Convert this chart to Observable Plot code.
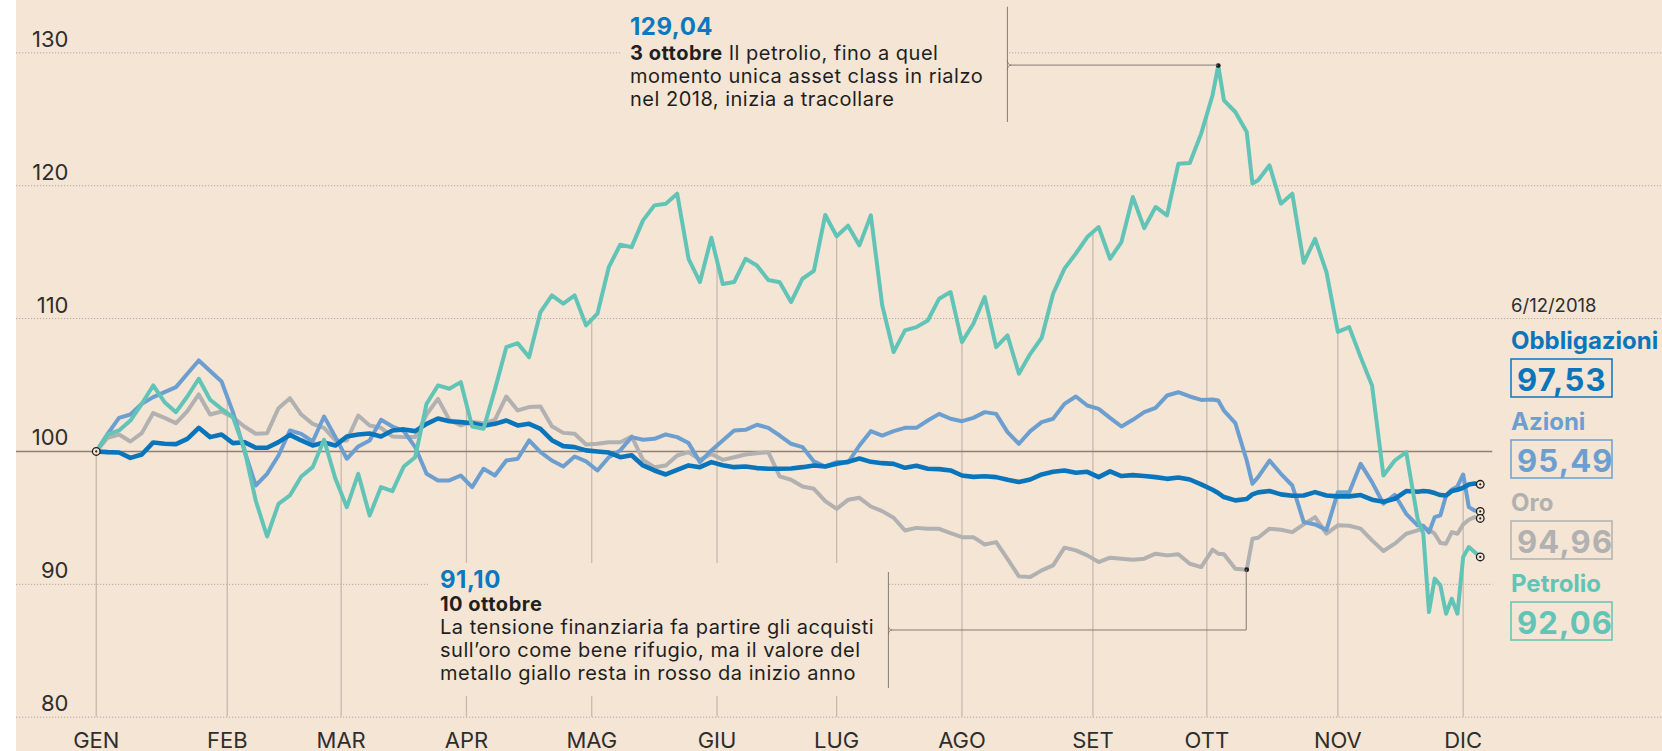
<!DOCTYPE html>
<html><head><meta charset="utf-8">
<script src="https://cdn.jsdelivr.net/npm/d3@7"></script>
<script src="https://cdn.jsdelivr.net/npm/@observablehq/plot@0.6"></script>
<style>
html,body{margin:0;padding:0;background:#fff;}
#wrap{position:relative;width:1662px;height:751px;overflow:hidden;background:#fff;}
#wrap > svg{position:absolute;left:16px;top:0;}
</style></head>
<body><div id="wrap"></div>
<script>
// business-day index (0 = 1 gennaio 2018, 243 = 6 dicembre 2018)
const days = [0,2,4,6,8,10,12,14,16,18,20,22,24,26,28,30,32,34,36,38,40,42,44,46,48,50,52,54,56,58,60,62,64,66,68,70,72,74,76,78,80,82,84,86,88,90,92,94,96,98,100,102,104,106,108,110,112,114,116,118,120,122,124,126,128,130,132,134,136,138,140,142,144,146,148,150,152,154,156,158,160,162,164,166,168,170,172,174,176,178,180,182,184,186,188,190,192,194,196,197,198,200,202,203,204,206,208,210,212,214,216,218,220,222,224,226,228,230,232,233,234,235,236,237,238,239,240,241,242,243];

const obbligazioni = [100.00,99.95,99.92,99.52,99.77,100.68,100.58,100.55,100.95,101.78,
101.08,101.28,100.63,100.70,100.28,100.28,100.70,101.25,100.83,100.45,
100.68,100.45,101.13,101.28,101.35,101.13,101.58,101.66,101.53,102.08,
102.48,102.28,102.21,102.13,101.93,102.08,102.33,101.96,102.08,101.70,
100.85,100.40,100.33,100.08,100.00,99.92,99.57,99.72,98.95,98.57,
98.27,98.62,98.95,98.82,99.20,98.97,98.82,98.87,98.75,98.70,
98.70,98.72,98.82,98.95,98.87,99.07,99.22,99.47,99.22,99.12,
99.07,98.77,98.92,98.70,98.67,98.57,98.19,98.09,98.14,98.07,
97.87,97.70,97.89,98.27,98.47,98.57,98.40,98.47,98.07,98.50,
98.15,98.22,98.15,98.07,97.94,98.04,97.89,97.52,97.12,
96.87,96.57,96.32,96.42,96.77,
96.92,97.02,96.77,96.67,96.69,96.94,96.69,96.62,96.62,96.72,96.37,96.22,96.44,97.02,
96.97,97.02,96.99,96.87,96.72,96.69,97.02,97.12,97.27,97.52,97.59,97.53];

const azioni = [100.00,101.33,102.53,102.78,103.59,104.09,104.47,104.84,105.85,106.85,
106.05,105.27,102.96,100.08,97.44,98.32,99.70,101.58,101.33,100.75,
102.63,101.08,99.45,100.38,100.83,102.38,101.88,101.53,100.33,98.32,
97.82,97.82,98.19,97.32,98.70,98.19,99.32,99.45,100.83,99.95,
99.32,98.87,99.62,99.25,98.57,99.57,100.08,101.08,100.88,100.95,
101.28,101.08,100.63,99.20,100.08,100.83,101.58,101.63,102.01,101.78,
101.20,100.58,100.33,99.25,98.87,99.20,99.17,100.45,101.53,101.20,
101.53,101.78,101.78,102.33,102.83,102.46,102.28,102.53,102.96,102.83,
101.46,100.58,101.53,102.21,102.46,103.58,104.14,103.46,103.21,102.53,
101.88,102.38,102.96,103.28,104.21,104.46,104.14,103.88,103.91,
103.83,103.08,102.13,99.32,97.57,
98.07,99.32,98.32,97.44,94.69,94.51,94.10,96.94,96.94,99.07,97.69,96.07,96.74,95.31,
94.44,94.41,93.91,95.06,95.19,96.69,97.12,97.37,98.27,95.81,95.56,95.49];

const oro = [100.00,101.03,101.28,100.75,101.38,102.89,102.53,102.13,103.04,104.29,
102.78,103.01,102.58,101.88,101.33,101.38,103.26,104.01,102.78,102.08,
101.78,100.83,100.83,102.71,101.96,101.78,101.13,101.08,101.08,102.78,
103.96,102.38,101.96,102.21,102.13,102.38,104.14,103.09,103.34,103.39,
101.90,101.40,101.33,100.53,100.58,100.70,100.70,101.13,99.37,98.82,
98.95,99.70,99.95,99.37,99.82,99.37,99.57,99.77,99.87,99.95,
98.12,97.87,97.37,97.19,96.26,95.68,96.36,96.51,95.86,95.51,
95.01,94.05,94.25,94.18,94.18,93.85,93.55,93.55,93.00,93.18,
91.92,90.60,90.55,91.05,91.43,92.76,92.56,92.18,91.68,92.01,
91.93,91.85,91.93,92.31,92.18,92.26,91.55,91.30,92.61,
92.31,92.26,91.18,91.10,93.43,
93.51,94.19,94.11,93.93,94.51,95.06,93.81,94.44,94.41,94.19,93.31,92.51,93.06,93.81,
94.06,94.26,94.11,93.81,93.11,93.06,93.93,93.81,94.51,94.86,95.06,94.96];

const petrolio = [100.00,101.28,101.58,102.33,103.59,104.97,103.71,102.96,104.14,105.47,
103.89,103.21,102.58,100.20,96.31,93.60,96.06,96.69,98.12,98.82,
100.88,97.94,95.81,98.32,95.18,97.32,97.01,98.87,99.57,103.59,
104.97,104.72,105.22,101.88,101.71,104.67,107.85,108.15,107.10,110.49,
111.75,111.12,111.75,109.49,110.37,113.88,115.56,115.38,117.39,118.52,
118.65,119.40,114.50,112.75,116.09,112.60,112.75,114.50,114.00,112.90,
112.73,111.24,113.00,113.60,117.80,116.20,116.99,115.51,117.77,111.00,
107.48,109.11,109.36,109.86,111.50,112.00,108.23,109.61,111.62,107.85,
108.73,105.85,107.35,108.56,111.87,113.76,114.90,116.14,116.89,114.50,
115.76,119.15,116.81,118.40,117.77,121.66,121.71,123.92,126.81,
129.04,126.43,125.55,124.05,120.16,
120.41,121.54,118.65,119.40,114.20,116.00,113.50,109.00,109.36,107.10,104.97,98.19,99.32,99.95,
94.94,93.81,87.92,90.43,89.92,87.79,88.92,87.79,92.05,92.81,92.43,92.06];

const monthLabels = ["GEN","FEB","MAR","APR","MAG","GIU","LUG","AGO","SET","OTT","NOV","DIC"];
const monthDays = [0,23,43,65,87,109,130,152,175,195,218,240];
const yTicks = [80,90,100,110,120,130];

const seriesNames = ["Obbligazioni","Azioni","Oro","Petrolio"];
const seriesColors = ["#0b75bc","#6c9fd0","#b1b1b1","#62c4b6"];
const seriesWidths = [4.6,4,4,4];
const lastDateLabel = "6/12/2018";

const noteTop = {series: "Petrolio", day: 197, title: "3 ottobre",
  lines: ["Il petrolio, fino a quel", "momento unica asset class in rialzo", "nel 2018, inizia a tracollare"]};
const noteBottom = {series: "Oro", day: 202, title: "10 ottobre",
  lines: ["La tensione finanziaria fa partire gli acquisti", "sull\u2019oro come bene rifugio, ma il valore del", "metallo giallo resta in rosso da inizio anno"]};

// ---------- build
const BG = "#f4e5d5";
const FONT = "Inter, 'DejaVu Sans', sans-serif";
const valuesBy = {Obbligazioni: obbligazioni, Azioni: azioni, Oro: oro, Petrolio: petrolio};
const series = seriesNames.map((name, i) => ({name, color: seriesColors[i], width: seriesWidths[i], values: valuesBy[name]}));
const rowsOf = s => days.map((d, i) => ({day: d, value: s.values[i], series: s.name}));
function valueAt(arr, d) {
  for (let i = 0; i < days.length - 1; i++) {
    if (d >= days[i] && d <= days[i + 1]) {
      const t = (d - days[i]) / (days[i + 1] - days[i]);
      return arr[i] + t * (arr[i + 1] - arr[i]);
    }
  }
  return arr[arr.length - 1];
}
const monthRows = monthDays.map((d, i) => ({day: d, label: monthLabels[i],
  top: Math.max(...series.map(s => valueAt(s.values, d)))}));
const lastDay = days[days.length - 1];
const endRows = series.map(s => ({day: lastDay, value: s.values[s.values.length - 1]}));
const startRow = [{day: days[0], value: 100}];
const fmt = v => v.toFixed(2).replace(".", ",");
const topPt = {day: noteTop.day, value: valueAt(valuesBy[noteTop.series], noteTop.day)};
const botPt = {day: noteBottom.day, value: valueAt(valuesBy[noteBottom.series], noteBottom.day)};

const drawOrder = ["Oro", "Azioni", "Obbligazioni", "Petrolio"];
const legendEdgeDay = 245.2;

const plot = Plot.plot({
  width: 1646, height: 751, margin: 0,
  style: {background: BG, fontFamily: FONT, overflow: "visible"},
  x: {domain: [-14, 275], axis: null},
  y: {domain: [77.42, 133.94], axis: null},
  marks: [
    Plot.ruleY([80, 110, 120, 130], {stroke: "#b3a79c", strokeWidth: 1, strokeDasharray: "1.2,1.8"}),
    Plot.ruleY([90], {x1: -14, x2: legendEdgeDay, stroke: "#b3a79c", strokeWidth: 1, strokeDasharray: "1.2,1.8"}),
    Plot.ruleX(monthRows, {x: "day", y1: yTicks[0], y2: "top", stroke: "#c4b6a8", strokeWidth: 1.2}),
    Plot.ruleY([100], {x1: -14, x2: legendEdgeDay, stroke: "#8b8179", strokeWidth: 1.4}),
    ...drawOrder.map(n => {
      const s = series.find(t => t.name === n);
      return Plot.line(rowsOf(s), {x: "day", y: "value", stroke: s.color, strokeWidth: s.width,
        strokeLinejoin: "round", strokeLinecap: "round"});
    }),
    Plot.dot(startRow.concat(endRows), {x: "day", y: "value", r: 3.8, fill: BG, stroke: "#1e1e1e", strokeWidth: 1.3}),
    Plot.dot(startRow.concat(endRows), {x: "day", y: "value", r: 1.1, fill: "#1e1e1e"}),
    Plot.dot([topPt, botPt], {x: "day", y: "value", r: 2.4, fill: "#1e1e1e"}),
    Plot.text(yTicks, {y: d => d, text: d => String(d), frameAnchor: "left", textAnchor: "end",
      lineAnchor: "bottom", dx: 52, dy: -6, fontSize: 22, fill: "#2e2e2e", fontFamily: FONT}),
    Plot.text(monthRows, {x: "day", text: "label", frameAnchor: "bottom", lineAnchor: "bottom",
      dy: -4, fontSize: 22, fill: "#2e2e2e", fontFamily: FONT})
  ]
});
document.getElementById("wrap").appendChild(plot);

// ---------- annotations & legend (page coordinates shifted by the 16px white strip)
const OFF = 16;
const P = x => x - OFF;
const sx = plot.scale("x"), sy = plot.scale("y");
const X = v => sx.apply(v), Y = v => sy.apply(v);
const svg = d3.select(plot);
const g = svg.append("g").attr("font-family", FONT).attr("text-anchor", "start");
const INK = "#1f1f1f";
const BLUE = "#0b78c0";
const LINE = "#857b73";
const NOTE_FS = 20, NOTE_LS = 0.5;

function notch(x, y) {
  g.append("path").attr("d", `M${x},${y - 5} Q${x},${y} ${x + 4},${y} Q${x},${y} ${x},${y + 5}`)
    .attr("fill", "none").attr("stroke", LINE).attr("stroke-width", 1);
}
function noteText(x, y, s, bold) {
  return g.append("text").attr("x", x).attr("y", y).attr("fill", INK).attr("font-size", NOTE_FS)
    .attr("letter-spacing", NOTE_LS).attr("font-weight", bold ? 700 : 400).text(s);
}

// top note
{
  const bx = P(1007.4);
  g.append("rect").attr("x", P(621)).attr("y", 0).attr("width", bx - P(621)).attr("height", 122).attr("fill", BG);
  g.append("text").attr("x", P(630)).attr("y", 35).attr("fill", BLUE).attr("font-size", 24).attr("letter-spacing", 0.5).attr("font-weight", 700).text(fmt(topPt.value));
  const t1 = g.append("text").attr("x", P(630)).attr("y", 60).attr("fill", INK).attr("font-size", NOTE_FS).attr("letter-spacing", NOTE_LS);
  t1.append("tspan").attr("font-weight", 700).text(noteTop.title);
  t1.append("tspan").text(" " + noteTop.lines[0]);
  noteTop.lines.slice(1).forEach((l, i) => noteText(P(630), 83 + 23 * i, l, false));
  g.append("line").attr("x1", bx).attr("x2", bx).attr("y1", 6.7).attr("y2", 122).attr("stroke", LINE).attr("stroke-width", 1);
  notch(bx, Y(topPt.value));
  g.append("line").attr("x1", bx + 4).attr("x2", X(topPt.day)).attr("y1", Y(topPt.value)).attr("y2", Y(topPt.value)).attr("stroke", LINE).attr("stroke-width", 1);
}
// bottom note
{
  const bx = P(888.4), hy = 630;
  g.append("rect").attr("x", P(428)).attr("y", 563).attr("width", bx - P(428)).attr("height", 133).attr("fill", BG);
  g.append("text").attr("x", P(440)).attr("y", 588).attr("fill", BLUE).attr("font-size", 24).attr("letter-spacing", 0.5).attr("font-weight", 700).text(fmt(botPt.value));
  noteText(P(440), 611, noteBottom.title, true);
  noteBottom.lines.forEach((l, i) => noteText(P(440), 634 + 23 * i, l, false));
  g.append("line").attr("x1", bx).attr("x2", bx).attr("y1", 572).attr("y2", 688).attr("stroke", LINE).attr("stroke-width", 1);
  notch(bx, hy);
  g.append("polyline").attr("points", `${bx + 4},${hy} ${X(botPt.day)},${hy} ${X(botPt.day)},${Y(botPt.value)}`)
    .attr("fill", "none").attr("stroke", LINE).attr("stroke-width", 1);
}
// legend
{
  const lx = P(1511);
  g.append("text").attr("x", lx).attr("y", 312).attr("fill", "#2e2e2e").attr("font-size", 18.5).text(lastDateLabel);
  series.forEach((s, i) => {
    const base = 349 + 81 * i;
    g.append("text").attr("x", lx).attr("y", base).attr("fill", s.color).attr("font-size", 24).attr("font-weight", 700).text(s.name);
    g.append("rect").attr("x", lx).attr("y", base + 10).attr("width", 101).attr("height", 38)
      .attr("fill", "none").attr("stroke", s.color).attr("stroke-width", 1.5);
    g.append("text").attr("x", lx + 6).attr("y", base + 42).attr("fill", s.color).attr("font-size", 31)
      .attr("letter-spacing", 1.2).attr("font-weight", 700)
      .text(fmt(s.values[s.values.length - 1]));
  });
}
</script>
</body></html>
